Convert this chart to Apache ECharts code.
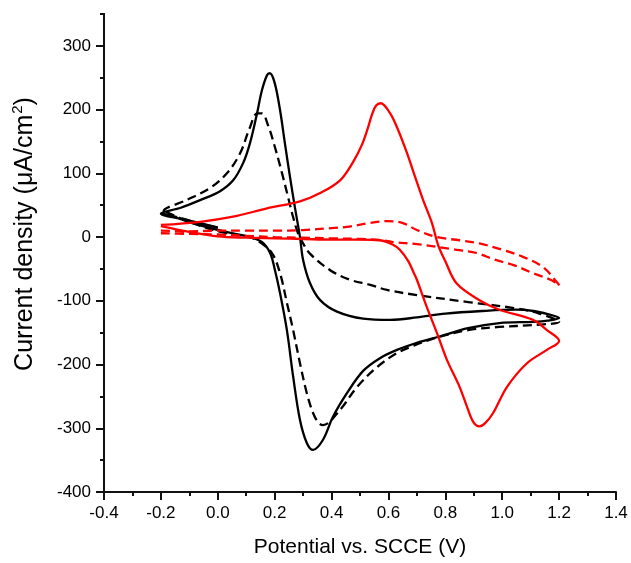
<!DOCTYPE html>
<html>
<head>
<meta charset="utf-8">
<script src="https://cdn.jsdelivr.net/npm/echarts@6/dist/echarts.min.js"></script>
<style>
html, body { margin: 0; padding: 0; background: #fff; }
#chart { width: 631px; height: 563px; }
</style>
</head>
<body>
<div id="chart"></div>
<script>
// potential (V) and current density (uA/cm2), in scan order
var blackSolidV = [0.0, -0.1, -0.2,
	-0.13, -0.062, 0.008, 0.054, 0.089, 0.113, 0.138, 0.155, 0.173, 0.183, 0.2, 0.219, 0.236, 0.254, 0.271, 0.289, 0.30, 0.324, 0.36, 0.419, 0.511, 0.606, 0.7, 0.8, 0.93, 1.05, 1.11, 1.16, 1.2,
	1.16, 1.11, 0.99, 0.88, 0.78, 0.7, 0.63, 0.57, 0.511, 0.454, 0.405, 0.37, 0.335, 0.313, 0.289, 0.265, 0.243, 0.219, 0.2, 0.184, 0.156, 0.113, 0.03, -0.09, -0.17, -0.2];
var blackSolidI = [15, 26, 37,
	46, 58, 72, 89, 116, 147, 194, 230, 254, 257, 242, 199, 147, 94, 47, 0, -36, -72, -99, -117, -128, -130, -126, -120, -116, -114, -116, -121, -127,
	-131, -133, -135, -143, -156, -166, -177, -190, -210, -245, -282, -318, -334, -323, -287, -219, -146, -88, -50, -25, -8, 0, 8, 22, 34, 37];

var blackDashV = [0.0, -0.1, -0.19,
	-0.11, -0.027, 0.032, 0.078, 0.113, 0.138, 0.155, 0.177, 0.201, 0.226, 0.247, 0.265, 0.282, 0.30, 0.324, 0.395, 0.465, 0.536, 0.595, 0.7, 0.88, 1.05, 1.13, 1.2,
	1.11, 0.99, 0.88, 0.76, 0.68, 0.63, 0.56, 0.49, 0.43, 0.37, 0.355, 0.335, 0.313, 0.289, 0.265, 0.243, 0.219, 0.19, 0.138, 0.1, 0.0, -0.1, -0.19];
var blackDashI = [15, 26, 41,
	58, 77, 100, 131, 172, 194, 194, 175, 141, 100, 63, 31, 6, -10, -26, -52, -67, -75, -83, -91, -102, -112, -120, -133,
	-138, -141, -146, -159, -172, -182, -204, -235, -271, -295, -292, -276, -245, -198, -146, -103, -57, -25, -5, 1, 9, 24, 41];

var redSolidV = [-0.2, -0.1, 0.0, 0.1, 0.2, 0.3, 0.4, 0.5, 0.57, 0.616, 0.64, 0.67, 0.69, 0.70, 0.735, 0.77, 0.806, 0.85, 0.876, 0.898, 0.92, 0.94, 0.968, 1.017, 1.087, 1.157, 1.2,
	1.157, 1.108, 0.99, 0.92, 0.84, 0.80, 0.775, 0.753, 0.722, 0.694, 0.665, 0.634, 0.606, 0.573, 0.556, 0.542, 0.527, 0.507, 0.476, 0.43, 0.36, 0.289, 0.173, 0.054, -0.062, -0.2];
var redSolidI = [17, 8, 1, -1, -2, -3, -4, -4, -5, -12, -20, -38, -57, -67, -110, -150, -193, -235, -266, -290, -297, -292, -276, -235, -198, -177, -163,
	-146, -130, -114, -99, -73, -38, -13, 22, 58, 94, 132, 168, 194, 210, 206, 192, 170, 145, 118, 89, 69, 56, 45, 32, 24, 19];

var redDashV = [-0.2, -0.1, 0.0, 0.1, 0.2, 0.3, 0.4, 0.5, 0.58, 0.616, 0.70, 0.84, 0.91, 0.97, 1.04, 1.11, 1.17, 1.2,
	1.196, 1.143, 1.073, 1.0, 0.92, 0.85, 0.77, 0.70, 0.651, 0.595, 0.535, 0.454, 0.4, 0.3, 0.2, 0.1, 0.0, -0.1, -0.2];
var redDashI = [6, 5, 4, 2, 0, -1, -2, -3, -5, -8, -11, -20, -25, -35, -44, -57, -67, -76,
	-73, -47, -31, -20, -10, -5, 0, 11, 22, 25, 22, 16, 14, 11, 10, 10, 10, 9, 10];

var yTicks = [-400, -300, -200, -100, 0, 100, 200, 300];

function pairs(v, i) {
	var out = [];
	for (var k = 0; k < v.length; k++) {
		out.push([v[k], i[k]]);
	}
	return out;
}

var chart = echarts.init(document.getElementById('chart'));

var axisFont = { color: '#000', fontFamily: 'Liberation Sans', fontSize: 17 };
var axisColor = '#111';

var option = {
	animation: false,
	backgroundColor: '#fff',
	grid: { left: 104, right: 15, top: 14, bottom: 71 },
	xAxis: {
		type: 'value',
		min: -0.4,
		max: 1.4,
		interval: 0.2,
		name: 'Potential vs. SCCE (V)',
		nameLocation: 'middle',
		nameGap: 45,
		nameTextStyle: { color: '#000', fontFamily: 'Liberation Sans', fontSize: 21 },
		axisLine: { show: true, onZero: false, lineStyle: { color: axisColor, width: 2 } },
		axisTick: { show: true, inside: false, length: 8, lineStyle: { color: axisColor, width: 2 } },
		minorTick: { show: true, splitNumber: 2, length: 4, lineStyle: { color: axisColor, width: 2 } },
		splitLine: { show: false },
		axisLabel: Object.assign({ margin: 13, formatter: function (v) { return v.toFixed(1); } }, axisFont)
	},
	yAxis: [{
		type: 'value',
		min: -400,
		max: 350,
		interval: 50,
		name: 'Current density (μA/cm{sup|2})',
		nameLocation: 'middle',
		nameGap: 64,
		nameRotate: 90,
		nameTextStyle: {
			color: '#000',
			fontFamily: 'Liberation Sans',
			fontSize: 25,
			lineHeight: 30,
			padding: [0, 0, 0, 38],
			rich: {
				sup: { color: '#000', fontFamily: 'Liberation Sans', fontSize: 15, lineHeight: 30, verticalAlign: 'top', padding: [0, 0, 0, 1] }
			}
		},
		axisLine: { show: true, onZero: false, lineStyle: { color: axisColor, width: 2 } },
		axisTick: { show: true, inside: false, length: 4, lineStyle: { color: axisColor, width: 2 } },
		splitLine: { show: false },
		axisLabel: Object.assign({
			margin: 13,
			formatter: function (v) { return yTicks.indexOf(v) >= 0 ? String(v) : ''; }
		}, axisFont)
	}, {
		// longer major ticks drawn on the same left axis
		type: 'value',
		min: -400,
		max: 350,
		interval: 100,
		position: 'left',
		offset: 0,
		axisLine: { show: true, onZero: false, lineStyle: { color: axisColor, width: 2 } },
		axisTick: { show: true, inside: false, length: 8, customValues: yTicks, lineStyle: { color: axisColor, width: 2 } },
		axisLabel: { show: false },
		splitLine: { show: false }
	}],
	series: [
		{
			name: 'black solid',
			type: 'line',
			data: pairs(blackSolidV, blackSolidI),
			showSymbol: false,
			smooth: 0.35,
			lineStyle: { color: '#000', width: 2.3 }
		},
		{
			name: 'black dashed',
			type: 'line',
			data: pairs(blackDashV, blackDashI),
			showSymbol: false,
			smooth: 0.35,
			lineStyle: { color: '#000', width: 2.3, type: [9, 5] }
		},
		{
			name: 'red solid',
			type: 'line',
			data: pairs(redSolidV, redSolidI),
			showSymbol: false,
			smooth: 0.35,
			lineStyle: { color: '#ff0000', width: 2.3 }
		},
		{
			name: 'red dashed',
			type: 'line',
			data: pairs(redDashV, redDashI),
			showSymbol: false,
			smooth: 0.35,
			lineStyle: { color: '#ff0000', width: 2.3, type: [9, 5] }
		}
	]
};

chart.setOption(option);
</script>
</body>
</html>
